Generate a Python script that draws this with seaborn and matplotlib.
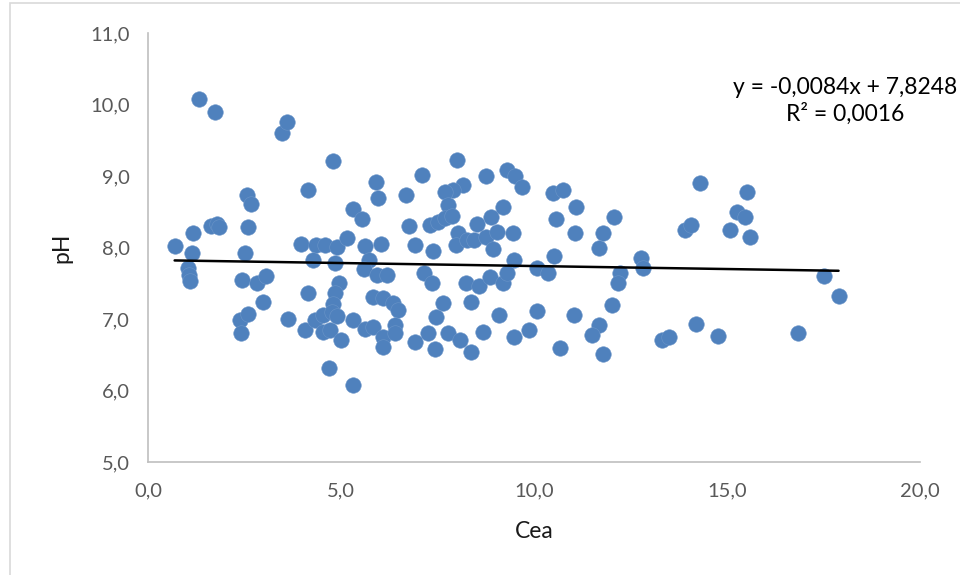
import matplotlib
matplotlib.use("Agg")
import matplotlib.pyplot as plt
from matplotlib.patches import Rectangle
from matplotlib.ticker import FuncFormatter, MultipleLocator
import numpy as np
import pandas as pd
import seaborn as sns

# Cea values (x) and matching pH values (y)
cea = [
    0.69, 1.17, 1.15, 1.04, 1.06, 1.09, 1.33, 1.73, 1.62, 1.78, 1.85,
    2.51, 2.43, 2.38, 2.40, 2.58, 2.56, 2.66, 2.60, 2.82, 3.06, 2.99,
    3.47, 3.59, 3.63, 3.96, 4.14, 4.14, 4.07, 4.34, 4.59, 4.28, 4.89,
    5.16, 4.84, 4.33, 4.54, 4.54, 4.72, 4.99, 4.96, 4.84, 4.78, 4.76,
    4.90, 4.70, 4.80, 5.62, 6.03, 5.73, 5.60, 5.92, 6.18, 5.84, 6.10,
    6.35, 6.48, 5.32, 5.62, 5.84, 6.10, 6.10, 6.41, 6.40, 5.32, 5.91,
    5.95, 6.68, 5.32, 5.55, 6.76, 7.10, 8.00, 8.76, 9.29, 9.51, 9.69,
    8.17, 7.91, 7.69, 7.78, 9.20, 7.31, 7.52, 7.69, 7.87, 8.53, 8.89,
    9.45, 8.04, 7.99, 8.26, 8.45, 8.76, 9.03, 6.92, 7.38, 8.95, 9.48,
    7.14, 7.35, 8.23, 8.57, 8.87, 9.20, 9.29, 7.63, 8.37, 7.46, 9.10,
    7.26, 6.92, 7.78, 8.08, 7.44, 8.38, 8.69, 9.49, 9.87, 10.48, 10.76,
    11.10, 10.57, 12.07, 11.06, 11.78, 11.69, 13.91, 14.06, 14.29,
    10.53, 10.07, 10.37, 12.23, 12.18, 12.76, 12.83, 12.02, 10.08,
    11.03, 11.68, 11.49, 10.68, 11.78, 13.32, 13.50, 14.20, 15.51,
    15.25, 15.47, 15.08, 15.59, 17.52, 17.89, 14.77, 16.83,
]
ph = [
    8.02, 8.20, 7.92, 7.72, 7.62, 7.53, 10.07, 9.90, 8.30, 8.33, 8.28,
    7.93, 7.54, 6.98, 6.80, 7.07, 8.74, 8.61, 8.29, 7.51, 7.60, 7.24,
    9.60, 9.76, 7.00, 8.05, 8.80, 7.37, 6.85, 8.03, 8.04, 7.83, 8.01,
    8.13, 7.78, 6.99, 7.06, 6.82, 6.85, 6.71, 7.51, 7.36, 7.21, 7.10,
    7.04, 6.32, 9.21, 8.02, 8.05, 7.83, 7.70, 7.62, 7.62, 7.31, 7.29,
    7.22, 7.12, 6.98, 6.86, 6.89, 6.75, 6.61, 6.91, 6.80, 6.07, 8.91,
    8.69, 8.73, 8.54, 8.40, 8.30, 9.01, 9.23, 9.00, 9.08, 9.00, 8.84,
    8.88, 8.81, 8.77, 8.59, 8.57, 8.31, 8.36, 8.41, 8.44, 8.33, 8.42,
    8.20, 8.20, 8.03, 8.10, 8.10, 8.15, 8.22, 8.03, 7.95, 7.98, 7.83,
    7.64, 7.50, 7.50, 7.46, 7.59, 7.51, 7.64, 7.22, 7.24, 7.03, 7.05,
    6.81, 6.68, 6.81, 6.70, 6.58, 6.54, 6.82, 6.75, 6.85, 8.76, 8.80,
    8.57, 8.40, 8.42, 8.20, 8.20, 8.00, 8.24, 8.31, 8.90,
    7.88, 7.71, 7.65, 7.65, 7.50, 7.86, 7.72, 7.20, 7.11,
    7.05, 6.91, 6.78, 6.60, 6.51, 6.71, 6.75, 6.93, 8.78,
    8.50, 8.42, 8.24, 8.15, 7.60, 7.32, 6.76, 6.80,
]

# Linear trendline as reported in the chart
slope = -0.0084
intercept = 7.8248
r_squared = 0.0016

df = pd.DataFrame({"Cea": cea, "pH": ph})

sns.set_theme(style="white")
plt.rcParams["font.family"] = ["Lato", "DejaVu Sans"]

fig = plt.figure(figsize=(9.6, 5.75), dpi=100)
ax = fig.add_axes([148 / 960, 1 - 462 / 575, (920 - 148) / 960, (462 - 33) / 575])

sns.scatterplot(data=df, x="Cea", y="pH", ax=ax, color="#4f81bd",
                s=125, edgecolor="#6a94c8", linewidth=0.4, zorder=3)

xs = np.array([min(cea), max(cea)])
ax.plot(xs, slope * xs + intercept, color="black", linewidth=1.8, zorder=4)

ax.set_xlim(0, 20)
ax.set_ylim(5, 11)
ax.xaxis.set_major_locator(MultipleLocator(5))
ax.yaxis.set_major_locator(MultipleLocator(1))
comma = FuncFormatter(lambda v, _: f"{v:.1f}".replace(".", ","))
ax.xaxis.set_major_formatter(comma)
ax.yaxis.set_major_formatter(comma)

for side in ("top", "right"):
    ax.spines[side].set_visible(False)
for side in ("left", "bottom"):
    ax.spines[side].set_color("#bfbfbf")
    ax.spines[side].set_linewidth(1.2)
ax.tick_params(axis="both", which="major", direction="out", length=6,
               width=1.2, color="#bfbfbf", labelsize=14.5, labelcolor="#595959")
ax.tick_params(axis="x", pad=9)
ax.tick_params(axis="y", pad=7)

ax.set_xlabel("Cea", fontsize=16.5, color="#1a1a1a")
ax.set_ylabel("pH", fontsize=16.5, color="#1a1a1a")
ax.xaxis.set_label_coords(0.5, (462 - 531) / 429)
ax.xaxis.label.set_va("center")
ax.yaxis.set_label_coords((62 - 148) / 772, 0.5)
ax.yaxis.label.set_va("center")

fig.text(845 / 960, 1 - 88 / 575, "y = -0,0084x + 7,8248", ha="center",
         va="center", fontsize=16.5, color="black")
fig.text(845 / 960, 1 - 114 / 575, "R² = 0,0016", ha="center",
         va="center", fontsize=16.5, color="black")

# Chart area border
fig.patches.append(Rectangle((10 / 960, -0.02), 1.0, 1 - 3 / 575 + 0.02,
                             transform=fig.transFigure, fill=False,
                             edgecolor="#d9d9d9", linewidth=1.2))

fig.savefig("out.png", dpi=100)
